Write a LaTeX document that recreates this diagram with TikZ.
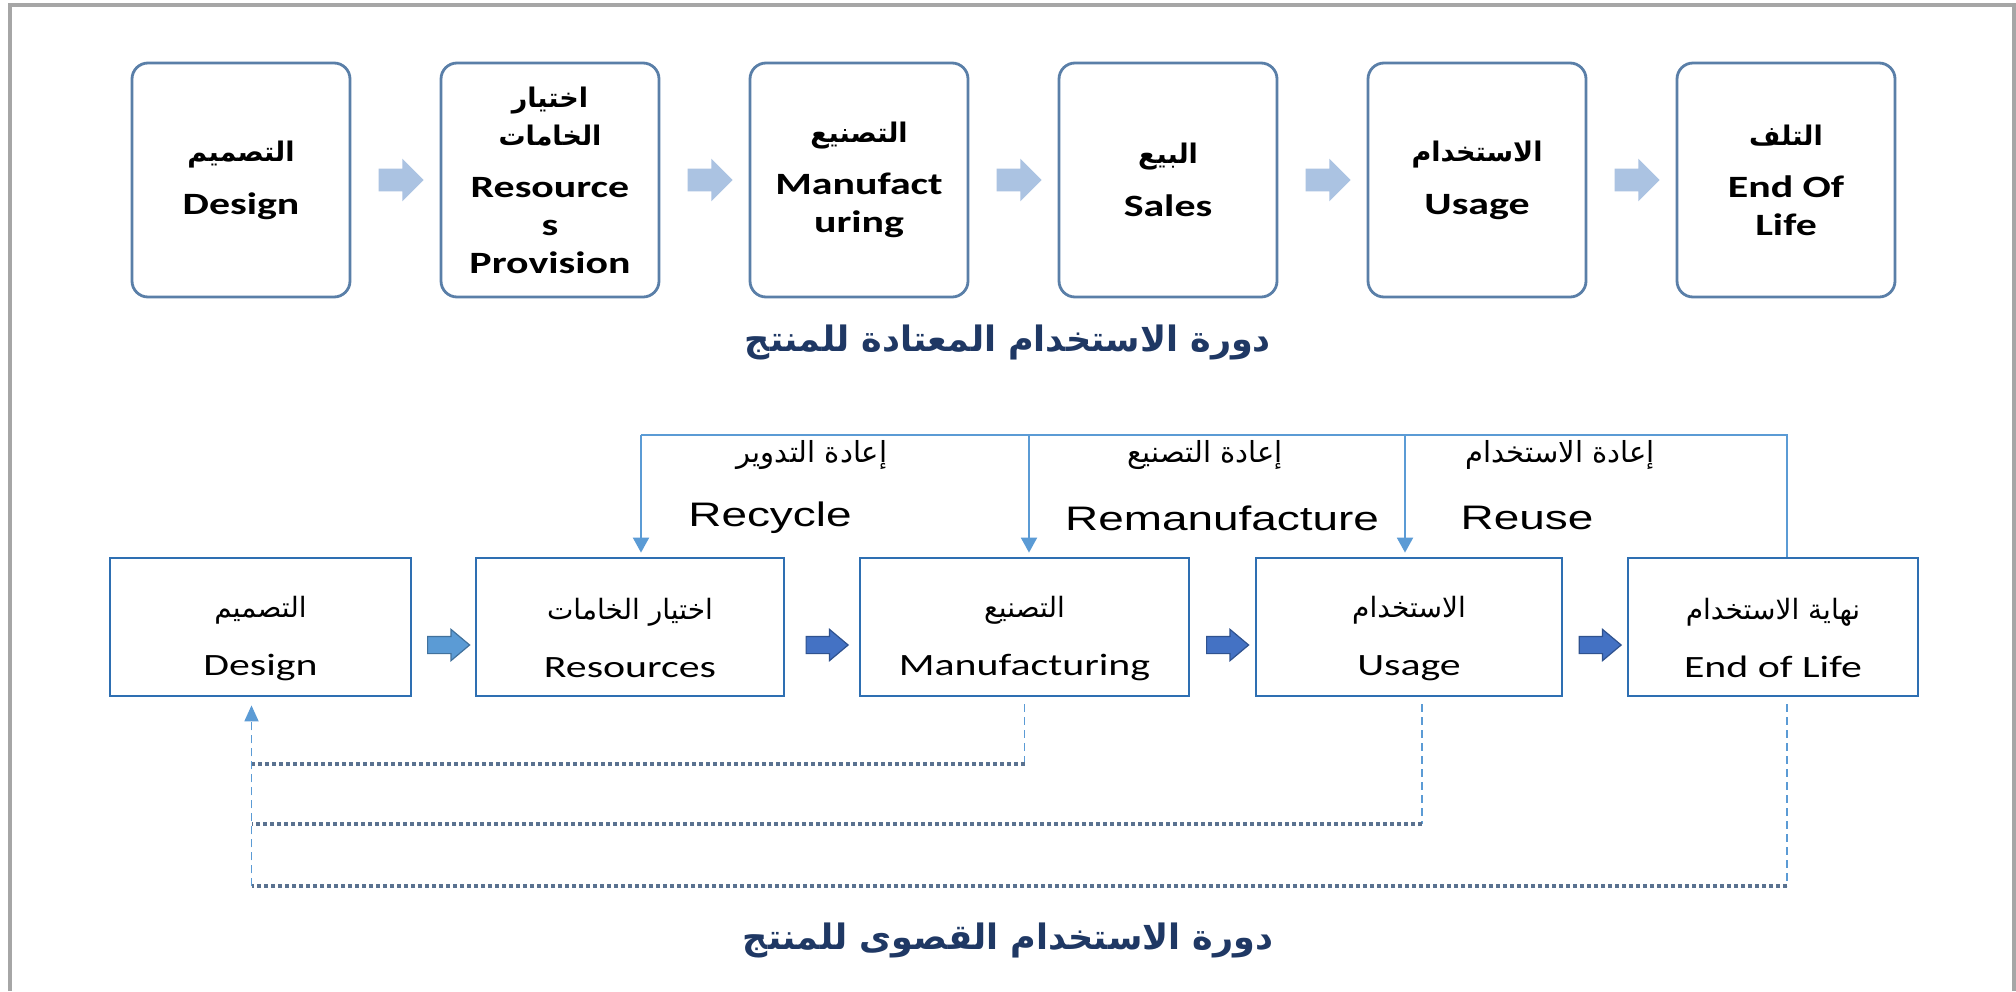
\documentclass[tikz,border=0pt]{standalone}
\usepackage{fontspec}
\usetikzlibrary{shapes.arrows,calc,arrows.meta}
\TeXXeTstate=1
\newfontfamily\calfont[FakeStretch=1.35]{Carlito}
\newfontfamily\arialfont[FakeStretch=1.35]{Liberation Sans}
\newfontfamily\arabfont[Script=Arabic]{DejaVu Sans}
\newcommand\AR[2][13.5pt]{{\arabfont\fontsize{#1}{#1}\selectfont\beginR #2\endR}}
\newcommand\ARB[2][17.5pt]{{\arabfont\bfseries\fontsize{#1}{#1}\selectfont\beginR #2\endR}}
\definecolor{framegray}{HTML}{A6A6A6}
\definecolor{topblue}{HTML}{5A7FA8}
\definecolor{toparrow}{HTML}{ABC3E2}
\definecolor{botblue}{HTML}{2E6FB2}
\definecolor{fbblue}{HTML}{5B9BD5}
\definecolor{arrowA}{HTML}{5B9BD5}
\definecolor{arrowAd}{HTML}{41719C}
\definecolor{arrowB}{HTML}{4472C4}
\definecolor{arrowBd}{HTML}{2F528F}
\definecolor{dashgray}{HTML}{5A7290}
\definecolor{titleblue}{HTML}{1F3864}
\begin{document}
\begin{tikzpicture}[x=0.5pt,y=-0.5pt,
  frame/.style={draw=framegray,line width=2pt},
  topbox/.style={draw=topblue,line width=1.4pt,rounded corners=8pt,fill=white,
    minimum width=109pt,minimum height=117pt,inner sep=0pt,align=center,
    font=\calfont\bfseries\fontsize{15.5pt}{19pt}\selectfont},
  botbox/.style={draw=botblue,line width=1.4pt,fill=white,
    minimum height=69pt,inner sep=0pt,align=center,
    font=\calfont\fontsize{15.5pt}{29pt}\selectfont},
  toparr/.style={single arrow,fill=toparrow,draw=none,minimum height=22.5pt,
    inner sep=5.5pt,single arrow head extend=5pt},
  botarr/.style={single arrow,line width=0.6pt,minimum height=21pt,
    inner sep=4pt,single arrow head extend=3.5pt,single arrow tip angle=80},
  fb/.style={draw=fbblue,line width=1pt},
  fbarrow/.style={fb,-{Triangle[width=8pt,length=7.5pt]}},
  vdash/.style={draw=fbblue,line width=0.9pt,dash pattern=on 4pt off 2.5pt},
  hdash/.style={draw=dashgray,line width=2pt,dash pattern=on 2pt off 1.5pt},
  arlabel/.style={inner sep=0pt},
  enlabel/.style={inner sep=0pt,font=\arialfont\fontsize{17pt}{17pt}\selectfont},
  titlenode/.style={inner sep=0pt,text=titleblue}
]
\useasboundingbox (0,0) rectangle (2016,991);
\fill[white] (0,0) rectangle (2016,991);
\draw[frame] (9.5,991) -- (9.5,5) -- (2013.5,5) -- (2013.5,991);

% ---- usual cycle
\node[topbox] (t1) at (241,180) {\AR{التصميم}\\[7.5pt]Design};
\node[topbox] (t2) at (550,180) {\AR{اختيار}\\\AR{الخامات}\\[7pt]Resource\\s\\Provision};
\node[topbox] (t3) at (859,180) {\AR{التصنيع}\\[7pt]Manufact\\uring};
\node[topbox] (t4) at (1168,180) {\AR{البيع}\\[7.5pt]Sales};
\node[topbox] (t5) at (1477,180) {\AR{الاستخدام}\\[7.5pt]Usage};
\node[topbox] (t6) at (1786,180) {\AR{التلف}\\[7pt]End Of\\Life};

\node[toparr] (ta1) at ($(t1.east)!0.5!(t2.west)$) {};
\node[toparr] (ta2) at ($(t2.east)!0.5!(t3.west)$) {};
\node[toparr] (ta3) at ($(t3.east)!0.5!(t4.west)$) {};
\node[toparr] (ta4) at ($(t4.east)!0.5!(t5.west)$) {};
\node[toparr] (ta5) at ($(t5.east)!0.5!(t6.west)$) {};

\node[titlenode] (title1) at (1008,342) {\ARB{دورة الاستخدام المعتادة للمنتج}};

% ---- extended cycle
\node[botbox,minimum width=150.5pt] (b1) at (260.5,627) {\rule{0pt}{22pt}\AR[14pt]{التصميم}\\Design};
\node[botbox,minimum width=154pt] (b2) at (630,627) {\rule{0pt}{22pt}\AR[14pt]{اختيار الخامات}\\Resources};
\node[botbox,minimum width=164.5pt] (b3) at (1024.5,627) {\rule{0pt}{22pt}\AR[14pt]{التصنيع}\\Manufacturing};
\node[botbox,minimum width=153pt] (b4) at (1409,627) {\rule{0pt}{22pt}\AR[14pt]{الاستخدام}\\Usage};
\node[botbox,minimum width=145pt] (b5) at (1773,627) {\rule{0pt}{22pt}\AR[14pt]{نهاية الاستخدام}\\End of Life};

\node[botarr,fill=arrowA,draw=arrowAd] (ba1) at ($(b1.east)!0.5!(b2.west)+(0,18)$) {};
\node[botarr,fill=arrowB,draw=arrowBd] (ba2) at ($(b2.east)!0.5!(b3.west)+(0,18)$) {};
\node[botarr,fill=arrowB,draw=arrowBd] (ba3) at ($(b3.east)!0.5!(b4.west)+(0,18)$) {};
\node[botarr,fill=arrowB,draw=arrowBd] (ba4) at ($(b4.east)!0.5!(b5.west)+(0,18)$) {};

% feedback lines above
\coordinate (fb1) at ($(b2.north)+(11,-122)$);
\coordinate (fb2) at ($(b3.north)+(4.5,-122)$);
\coordinate (fb3) at ($(b4.north)+(-4,-122)$);
\coordinate (fb4) at ($(b5.north)+(14,-122)$);
\draw[fb] ($(b5.north)+(14,0)$) -- (fb4) -- (fb1);
\draw[fbarrow] (fb1) -- ($(b2.north)+(11,-4)$);
\draw[fbarrow] (fb2) -- ($(b3.north)+(4.5,-4)$);
\draw[fbarrow] (fb3) -- ($(b4.north)+(-4,-4)$);

\node[arlabel] (lab1a) at (812,455) {\AR[14.5pt]{إعادة التدوير}};
\node[enlabel] (lab1e) at (770,518) {Recycle};
\node[arlabel] (lab2a) at (1205,455) {\AR[14.5pt]{إعادة التصنيع}};
\node[enlabel] (lab2e) at (1222,518) {Remanufacture};
\node[arlabel] (lab3a) at (1560,455) {\AR[14.5pt]{إعادة الاستخدام}};
\node[enlabel] (lab3e) at (1527,518) {Reuse};

% return lines below
\coordinate (lx) at ($(b1.south)+(-9,0)$);
\coordinate (d1) at ($(b3.south)+(0,7)$);
\coordinate (h1) at ($(b3.south)+(0,67)$);
\coordinate (d2) at ($(b4.south)+(13,7)$);
\coordinate (h2) at ($(b4.south)+(13,127)$);
\coordinate (d3) at ($(b5.south)+(14,7)$);
\coordinate (h3) at ($(b5.south)+(14,189)$);
\draw[vdash] (d1) -- (h1);
\draw[vdash] (d2) -- (h2);
\draw[vdash] (d3) -- (h3);
\draw[hdash] (h1) -- (h1 -| lx);
\draw[hdash] (h2) -- (h2 -| lx);
\draw[hdash] (h3) -- (h3 -| lx);
\draw[vdash,-{Triangle[width=7pt,length=8pt]}] (h3 -| lx) -- ($(lx)+(0,8)$);

\node[titlenode] (title2) at (1008,940) {\ARB{دورة الاستخدام القصوى للمنتج}};
\end{tikzpicture}
\end{document}
